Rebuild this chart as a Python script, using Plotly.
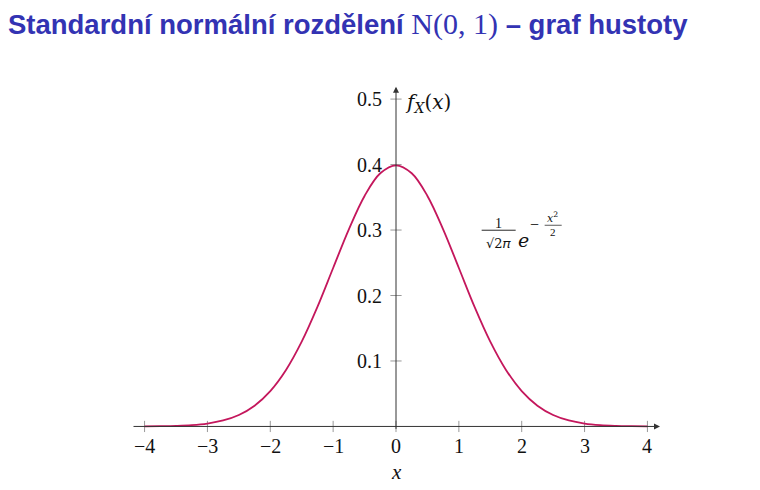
import plotly.graph_objects as go

# Density values (standard normal curve)
x_vals = [-4.0, -3.75, -3.5, -3.25, -3.0, -2.75, -2.5, -2.25, -2.0, -1.75, -1.5, -1.25,
          -1.0, -0.75, -0.5, -0.25, 0.0, 0.25, 0.5, 0.75, 1.0, 1.25, 1.5, 1.75,
          2.0, 2.25, 2.5, 2.75, 3.0, 3.25, 3.5, 3.75, 4.0]
density = [0.0001, 0.0004, 0.0009, 0.0020, 0.0044, 0.0091, 0.0175, 0.0317, 0.0540, 0.0863,
           0.1295, 0.1826, 0.2420, 0.3011, 0.3521, 0.3867, 0.3989, 0.3867, 0.3521, 0.3011,
           0.2420, 0.1826, 0.1295, 0.0863, 0.0540, 0.0317, 0.0175, 0.0091, 0.0044, 0.0020,
           0.0009, 0.0004, 0.0001]

x_ticks = [-4, -3, -2, -1, 0, 1, 2, 3, 4]
x_tick_labels = ["\u22124", "\u22123", "\u22122", "\u22121", "0", "1", "2", "3", "4"]
y_ticks = [0.1, 0.2, 0.3, 0.4, 0.5]
y_tick_labels = ["0.1", "0.2", "0.3", "0.4", "0.5"]

CURVE = "#C4175C"
AXIS = "#333333"
TICK = "#999999"
SERIF = "Liberation Serif"
MATH = "DejaVu Serif"
INK = "#111111"

fig = go.Figure()

# tick marks (crossing the axes)
fig.add_trace(go.Scatter(x=x_ticks, y=[0] * len(x_ticks), mode="markers",
                         marker=dict(symbol="line-ns", size=8, line=dict(color=TICK, width=1)),
                         hoverinfo="skip", showlegend=False))
fig.add_trace(go.Scatter(x=[0] * len(y_ticks), y=y_ticks, mode="markers",
                         marker=dict(symbol="line-ew", size=8, line=dict(color=TICK, width=1)),
                         hoverinfo="skip", showlegend=False))

# density curve
fig.add_trace(go.Scatter(x=x_vals, y=density, mode="lines",
                         line=dict(color=CURVE, width=1.8, shape="spline", smoothing=1.0),
                         hoverinfo="skip", showlegend=False))

annotations = []
# axes with arrows
annotations.append(dict(x=4.2, y=0, ax=-4.2, ay=0, xref="x", yref="y", axref="x", ayref="y",
                        text="", showarrow=True, arrowhead=2, arrowsize=1.2, arrowwidth=1,
                        arrowcolor=AXIS))
annotations.append(dict(x=0, y=0.519, ax=0, ay=-0.006, xref="x", yref="y", axref="x", ayref="y",
                        text="", showarrow=True, arrowhead=2, arrowsize=1.2, arrowwidth=1,
                        arrowcolor=AXIS))

for xv, lab in zip(x_ticks, x_tick_labels):
    annotations.append(dict(x=xv, y=0, xref="x", yref="y", text=lab, showarrow=False,
                            yshift=-20, font=dict(family=SERIF, size=20, color=INK)))
for yv, lab in zip(y_ticks, y_tick_labels):
    annotations.append(dict(x=0, y=yv, xref="x", yref="y", text=lab, showarrow=False,
                            xanchor="right", xshift=-12,
                            font=dict(family=SERIF, size=20, color=INK)))

# axis labels (mathematical italic characters)
annotations.append(dict(x=0, y=0.5, xref="x", yref="y",
                        text="\U0001D453<sub>\U0001D44B</sub>(\U0001D465)",
                        showarrow=False, xanchor="left", xshift=7, yshift=-4,
                        font=dict(family=MATH, size=20, color=INK)))
annotations.append(dict(x=0, y=0, xref="x", yref="y",
                        text="<span style='font-style:italic'>x</span>", showarrow=False,
                        yshift=-46, font=dict(family=SERIF, size=21, color=INK)))

# formula 1/sqrt(2pi) e^{-x^2/2}
annotations.append(dict(x=1.634, y=0.3096, text="1", showarrow=False,
                        font=dict(family=SERIF, size=14, color=INK)))
annotations.append(dict(x=1.634, y=0.279, text="\u221a2\U0001D70B", showarrow=False,
                        font=dict(family=MATH, size=13, color=INK)))
annotations.append(dict(x=2.03, y=0.2852, text="\U0001D452", showarrow=False,
                        font=dict(family=MATH, size=19, color=INK)))
annotations.append(dict(x=2.207, y=0.3085, text="\u2212", showarrow=False,
                        font=dict(family=SERIF, size=16, color=INK)))
annotations.append(dict(x=2.49, y=0.3185, text="\U0001D465<sup>2</sup>", showarrow=False,
                        font=dict(family=MATH, size=11, color=INK)))
annotations.append(dict(x=2.493, y=0.2975, text="2", showarrow=False,
                        font=dict(family=SERIF, size=11, color=INK)))

shapes = [
    dict(type="line", x0=1.363, x1=1.904, y0=0.2997, y1=0.2997, xref="x", yref="y",
         line=dict(color=INK, width=0.9)),
    dict(type="line", x0=2.365, x1=2.636, y0=0.3073, y1=0.3073, xref="x", yref="y",
         line=dict(color=INK, width=0.7)),
]

fig.update_layout(
    width=760, height=490,
    margin=dict(l=132, r=100, t=86, b=57),
    paper_bgcolor="white", plot_bgcolor="white",
    xaxis=dict(range=[-4.2, 4.2], visible=False, fixedrange=True),
    yaxis=dict(range=[-0.01, 0.52], visible=False, fixedrange=True),
    annotations=annotations,
    shapes=shapes,
    title=dict(
        text="<b>Standardní normální rozdělení</b> "
             "<span style='font-family:Liberation Serif;font-size:30px'>N(0, 1)</span>"
             " <b>– graf hustoty</b>",
        x=0.0105, xanchor="left", y=0.951, yanchor="middle",
        font=dict(family="Liberation Sans", size=27.5, color="#3333B3"),
    ),
)

fig.write_html("out.html")
